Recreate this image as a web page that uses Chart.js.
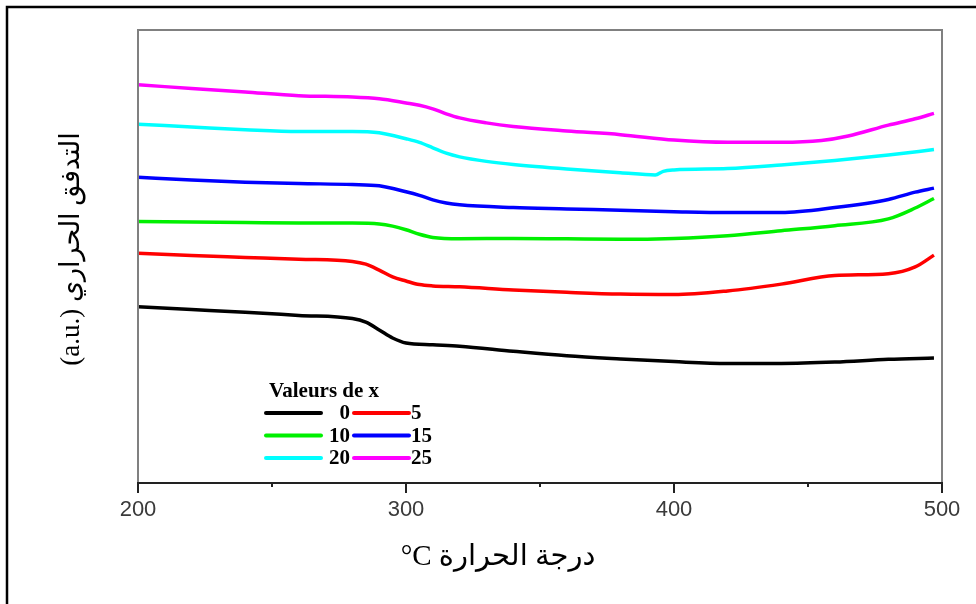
<!DOCTYPE html>
<html>
<head>
<meta charset="utf-8">
<script src="https://cdn.jsdelivr.net/npm/chart.js@4.4.1/dist/chart.umd.min.js"></script>
<style>
  body { margin: 0; background: #fff; }
  #wrap { width: 976px; height: 604px; }
</style>
</head>
<body>
<div id="wrap"><canvas id="dsc" width="976" height="604"></canvas></div>
<script>
// x values (Valeurs de x) and their colours
const seriesLabels = ['0', '5', '10', '15', '20', '25'];
const seriesColors = ['#000000', '#ff0000', '#00f000', '#0000ff', '#00ffff', '#ff00ff'];

// temperature (°C) / heat flow (a.u.)
const t0 = [200, 220, 240, 260, 280, 285, 290, 295, 300, 310, 320, 340, 360, 380, 400, 420, 440, 460, 480, 497];
const v0 = [3.89, 3.83, 3.77, 3.70, 3.63, 3.55, 3.38, 3.20, 3.09, 3.05, 3.02, 2.91, 2.81, 2.74, 2.68, 2.64, 2.64, 2.67, 2.73, 2.76];

const t5 = [200, 220, 240, 260, 280, 285, 290, 295, 300, 305, 310, 320, 340, 360, 380, 400, 420, 440, 460, 480, 490, 497];
const v5 = [5.07, 5.02, 4.98, 4.94, 4.89, 4.83, 4.70, 4.55, 4.46, 4.38, 4.35, 4.33, 4.26, 4.21, 4.17, 4.16, 4.24, 4.39, 4.58, 4.62, 4.77, 5.03];

const t10 = [200, 220, 240, 260, 280, 290, 295, 300, 305, 310, 320, 340, 360, 380, 400, 420, 440, 460, 480, 490, 497];
const v10 = [5.77, 5.76, 5.75, 5.74, 5.74, 5.72, 5.67, 5.59, 5.49, 5.42, 5.39, 5.40, 5.39, 5.38, 5.40, 5.46, 5.57, 5.68, 5.83, 6.07, 6.28];

const t15 = [200, 220, 240, 260, 280, 290, 300, 305, 310, 315, 320, 340, 360, 380, 400, 420, 440, 460, 480, 490, 497];
const v15 = [6.75, 6.69, 6.64, 6.61, 6.59, 6.56, 6.43, 6.35, 6.25, 6.18, 6.14, 6.08, 6.05, 6.02, 5.99, 5.97, 5.97, 6.08, 6.26, 6.42, 6.51];

const t20 = [200, 220, 240, 260, 280, 290, 300, 305, 310, 315, 320, 330, 340, 360, 380, 393, 396, 400, 420, 440, 460, 480, 497];
const v20 = [7.92, 7.86, 7.80, 7.76, 7.76, 7.73, 7.60, 7.52, 7.40, 7.28, 7.20, 7.10, 7.03, 6.93, 6.85, 6.80, 6.88, 6.91, 6.94, 7.02, 7.12, 7.24, 7.36];

const t25 = [200, 220, 240, 260, 280, 290, 300, 305, 310, 315, 320, 330, 340, 360, 380, 400, 420, 440, 455, 465, 480, 490, 497];
const v25 = [8.79, 8.71, 8.63, 8.55, 8.52, 8.48, 8.39, 8.34, 8.26, 8.15, 8.06, 7.95, 7.87, 7.77, 7.69, 7.57, 7.52, 7.52, 7.56, 7.66, 7.90, 8.04, 8.16];

const xTicks = [200, 250, 300, 350, 400, 450, 500];
const xTitle = '°C درجة الحرارة';
const yTitle = '(a.u.) التدفق الحراري';
const legendTitle = 'Valeurs de x';

const temps = [t0, t5, t10, t15, t20, t25];
const vals = [v0, v5, v10, v15, v20, v25];

const datasets = seriesLabels.map((lab, i) => ({
    label: lab,
    data: temps[i].map((t, j) => ({ x: t, y: vals[i][j] })),
    borderColor: seriesColors[i],
    borderWidth: 3.5,
    pointRadius: 0,
    cubicInterpolationMode: 'monotone',
    fill: false
}));

const decorPlugin = {
    id: 'decor',
    afterDatasetsDraw(chart) {
        const ctx = chart.ctx;
        const a = chart.chartArea;
        ctx.save();

        // page frame (left and top only)
        ctx.strokeStyle = '#000';
        ctx.lineWidth = 2.5;
        ctx.beginPath();
        ctx.moveTo(7, 604);
        ctx.lineTo(7, 7);
        ctx.lineTo(976, 7);
        ctx.stroke();

        // plot box
        ctx.lineWidth = 2;
        ctx.strokeStyle = '#808080';
        ctx.beginPath();
        ctx.moveTo(a.left, a.bottom);
        ctx.lineTo(a.left, a.top);
        ctx.lineTo(a.right, a.top);
        ctx.lineTo(a.right, a.bottom);
        ctx.stroke();
        ctx.strokeStyle = '#222';
        ctx.beginPath();
        ctx.moveTo(a.left - 1, a.bottom);
        ctx.lineTo(a.right + 1, a.bottom);
        ctx.stroke();

        // tick marks, long on hundreds
        const xs = chart.scales.x;
        ctx.lineWidth = 2;
        xs.ticks.forEach(t => {
            const px = xs.getPixelForValue(t.value);
            const len = t.value % 100 === 0 ? 10 : 4;
            ctx.beginPath();
            ctx.moveTo(px, a.bottom);
            ctx.lineTo(px, a.bottom + len);
            ctx.stroke();
        });

        // axis titles
        ctx.fillStyle = '#000';
        ctx.textAlign = 'center';
        ctx.textBaseline = 'middle';
        ctx.font = "29px 'Liberation Serif', 'DejaVu Sans', serif";
        ctx.fillText(xTitle, 498, 557);
        ctx.font = "27px 'Liberation Serif', 'DejaVu Sans', serif";
        ctx.save();
        ctx.translate(72, 249);
        ctx.rotate(-Math.PI / 2);
        ctx.fillText(yTitle, 0, 0);
        ctx.restore();

        // legend inside plot
        ctx.font = "bold 21px 'Liberation Serif', serif";
        ctx.textAlign = 'left';
        ctx.fillText(legendTitle, 269, 392);
        ctx.font = "bold 21px 'Liberation Serif', serif";
        ctx.lineCap = 'round';
        ctx.lineWidth = 4;
        const ds = chart.data.datasets;
        for (let r = 0; r < 3; r++) {
            const y = 413 + r * 22.5;
            const left = ds[r * 2], right = ds[r * 2 + 1];
            ctx.strokeStyle = left.borderColor;
            ctx.beginPath(); ctx.moveTo(266, y); ctx.lineTo(321, y); ctx.stroke();
            ctx.textAlign = 'right';
            ctx.fillText(left.label, 350, y + 1);
            ctx.strokeStyle = right.borderColor;
            ctx.beginPath(); ctx.moveTo(354, y); ctx.lineTo(409, y); ctx.stroke();
            ctx.textAlign = 'left';
            ctx.fillText(right.label, 411, y + 1);
        }
        ctx.restore();
    }
};

new Chart(document.getElementById('dsc'), {
    type: 'line',
    data: { datasets: datasets },
    options: {
        responsive: false,
        animation: false,
        layout: { padding: { left: 138, right: 34, top: 30, bottom: 0 } },
        plugins: { legend: { display: false }, tooltip: { enabled: false } },
        scales: {
            x: {
                type: 'linear',
                min: 200,
                max: 500,
                afterBuildTicks: s => { s.ticks = xTicks.map(v => ({ value: v })); },
                afterFit: s => { s.height = 121; },
                grid: { display: false },
                border: { display: false },
                ticks: {
                    autoSkip: false,
                    maxRotation: 0,
                    padding: 6,
                    color: '#3a3a3a',
                    font: { family: "'Liberation Sans', Arial, sans-serif", size: 22 },
                    callback: v => (v % 100 === 0 ? v : '')
                }
            },
            y: {
                display: false,
                min: 0,
                max: 10
            }
        }
    },
    plugins: [decorPlugin]
});
</script>
</body>
</html>
